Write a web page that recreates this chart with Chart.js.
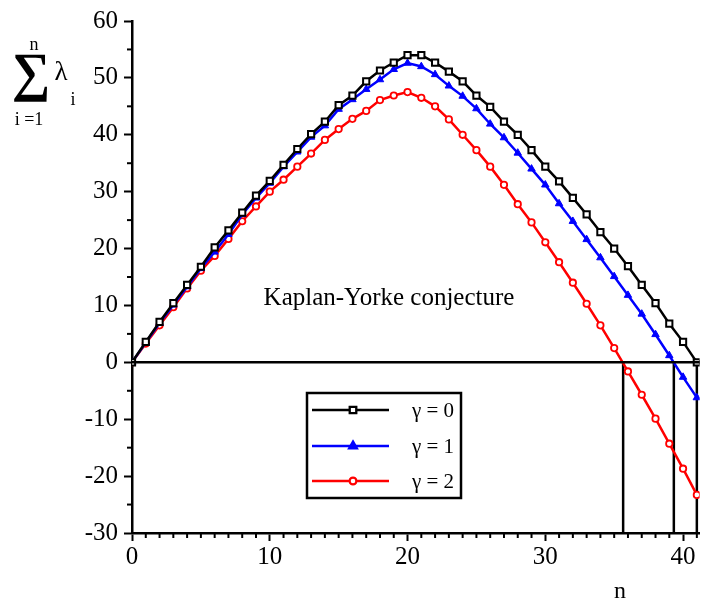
<!DOCTYPE html>
<html>
<head>
<meta charset="utf-8">
<script src="https://cdn.jsdelivr.net/npm/chart.js@4.4.1/dist/chart.umd.min.js"></script>
<style>
  body { margin: 0; background: #fff; }
  #wrap { width: 706px; height: 603px; }
</style>
</head>
<body>
<div id="wrap"><canvas id="kyChart" width="706" height="603"></canvas></div>
<script>
// n = 0 .. 41
const nValues = [0,1,2,3,4,5,6,7,8,9,10,11,12,13,14,15,16,17,18,19,20,21,22,23,24,25,26,27,28,29,30,31,32,33,34,35,36,37,38,39,40,41];

// cumulative sum of Lyapunov exponents for each gamma
const gamma0 = [0,3.6,7.1,10.4,13.6,16.8,20.2,23.2,26.3,29.3,31.9,34.7,37.5,40.1,42.3,45.2,46.9,49.4,51.3,52.7,54.0,54.0,52.7,51.1,49.4,46.9,44.9,42.3,40.0,37.3,34.4,31.8,28.9,26.0,22.9,20.0,16.9,13.6,10.4,6.8,3.6,0.0];
const gamma1 = [0,3.5,6.9,10.1,13.3,16.5,19.4,22.5,26.0,28.9,31.5,34.4,37.0,39.6,41.6,44.5,46.2,48.0,49.7,51.5,52.6,52.0,50.6,48.6,46.8,44.6,41.9,39.5,36.8,34.0,31.2,27.9,24.8,21.6,18.4,15.1,11.8,8.5,4.9,1.2,-2.6,-6.2];
const gamma2 = [0,3.3,6.5,9.7,13.0,16.1,18.7,21.7,24.8,27.4,30.0,32.1,34.4,36.7,39.1,41.0,42.8,44.2,46.1,46.9,47.5,46.5,45.0,42.7,40.0,37.3,34.4,31.2,27.8,24.6,21.1,17.6,14.0,10.3,6.5,2.5,-1.6,-5.7,-9.9,-14.3,-18.7,-23.3];

// zero crossings (Kaplan-Yorke dimension) marked with vertical lines
const crossings = [35.65, 39.33, 41];

const seriesNames = ['\u03b3 = 0', '\u03b3 = 1', '\u03b3 = 2'];
const seriesColors = ['#000000', '#0000ff', '#ff0000'];

const xTicks = [0, 10, 20, 30, 40];
const yTicks = [-30, -20, -10, 0, 10, 20, 30, 40, 50, 60];

const serif = '"Liberation Serif", "DejaVu Serif", serif';

function toPoints(ys) {
    return nValues.map((n, i) => ({ x: n, y: ys[i] }));
}

const markerDefs = [
    { pointStyle: 'rect', pointRadius: 4.4, pointBackgroundColor: '#fff', pointBorderWidth: 2 },
    { pointStyle: 'triangle', pointRadius: 4.3, pointBackgroundColor: '#0000ff', pointBorderWidth: 1 },
    { pointStyle: 'circle', pointRadius: 3.2, pointBackgroundColor: '#fff', pointBorderWidth: 1.8 }
];

const datasets = [gamma0, gamma1, gamma2].map((ys, i) => Object.assign({
    label: seriesNames[i],
    data: toPoints(ys),
    borderColor: seriesColors[i],
    pointBorderColor: seriesColors[i],
    borderWidth: 2.5,
    tension: 0
}, markerDefs[i]));

// vertical drop lines at the zero crossings
crossings.forEach(c => {
    datasets.push({
        label: 'cross',
        data: [{ x: c, y: 0 }, { x: c, y: -30 }],
        borderColor: '#000',
        borderWidth: 2.5,
        pointRadius: 0
    });
});

// extras: minor ticks, zero line text, legend box, axis titles
const extras = {
    id: 'extras',
    afterDraw(chart) {
        const ctx = chart.ctx;
        const xs = chart.scales.x, ys = chart.scales.y;
        const area = chart.chartArea;
        ctx.save();
        ctx.strokeStyle = '#000';
        ctx.lineWidth = 2;
        // minor ticks
        for (let n = 1; n <= 41; n++) {
            if (n % 10 === 0) continue;
            const px = xs.getPixelForValue(n);
            ctx.beginPath();
            ctx.moveTo(px, area.bottom);
            ctx.lineTo(px, area.bottom + 5);
            ctx.stroke();
        }
        for (let v = -25; v <= 55; v += 10) {
            const py = ys.getPixelForValue(v);
            ctx.beginPath();
            ctx.moveTo(area.left, py);
            ctx.lineTo(area.left - 5, py);
            ctx.stroke();
        }
        // zero line
        ctx.lineWidth = 2.5;
        const y0 = ys.getPixelForValue(0);
        ctx.beginPath();
        ctx.moveTo(area.left, y0);
        ctx.lineTo(area.right, y0);
        ctx.stroke();

        // annotation
        ctx.fillStyle = '#000';
        ctx.font = '25px ' + serif;
        ctx.textAlign = 'center';
        ctx.textBaseline = 'middle';
        ctx.fillText('Kaplan-Yorke conjecture', 389, 298);

        // legend
        ctx.lineWidth = 2.5;
        ctx.strokeRect(307, 393, 154, 105);
        const rows = [410, 446, 481];
        rows.forEach((ry, i) => {
            ctx.strokeStyle = seriesColors[i];
            ctx.lineWidth = 2.5;
            ctx.beginPath();
            ctx.moveTo(312, ry);
            ctx.lineTo(389, ry);
            ctx.stroke();
            const m = markerDefs[i];
            Chart.helpers.drawPoint(ctx, {
                pointStyle: m.pointStyle,
                radius: m.pointRadius,
                borderWidth: m.pointBorderWidth,
                rotation: 0
            }, 353, ry);
            ctx.fillStyle = i === 1 ? seriesColors[1] : '#fff';
            ctx.strokeStyle = seriesColors[i];
            ctx.lineWidth = m.pointBorderWidth;
            ctx.fill();
            ctx.stroke();
            ctx.fillStyle = '#000';
            ctx.font = '21px ' + serif;
            ctx.textAlign = 'left';
            ctx.fillText(seriesNames[i], 412, ry + 1);
        });

        // y axis title: sum_{i=1}^{n} lambda_i
        ctx.fillStyle = '#000';
        ctx.textAlign = 'center';
        ctx.textBaseline = 'alphabetic';
        ctx.font = 'bold 54px ' + serif;
        ctx.fillText('\u2211', 31, 90);
        ctx.font = '18px ' + serif;
        ctx.fillText('n', 34, 50);
        ctx.fillText('i =1', 29, 125);
        ctx.font = '27px ' + serif;
        ctx.fillText('\u03bb', 61, 80);
        ctx.font = '18px ' + serif;
        ctx.fillText('i', 73, 105);

        // x axis title
        ctx.font = '24px ' + serif;
        ctx.fillText('n', 620, 598);
        ctx.restore();
    }
};

new Chart(document.getElementById('kyChart'), {
    type: 'line',
    data: { datasets: datasets },
    options: {
        responsive: false,
        animation: false,
        layout: { padding: { top: 14, right: 3, left: 0, bottom: 0 } },
        plugins: {
            legend: { display: false },
            tooltip: { enabled: false }
        },
        scales: {
            x: {
                type: 'linear',
                min: 0,
                max: 41.2,
                afterFit: s => { s.height = 70; },
                afterBuildTicks: s => { s.ticks = xTicks.map(v => ({ value: v })); },
                border: { display: true, color: '#000', width: 2.5 },
                grid: { drawOnChartArea: false, drawTicks: true, tickLength: 8, tickWidth: 2, tickColor: '#000' },
                ticks: { color: '#000', font: { family: serif, size: 25 }, padding: 1, maxRotation: 0 }
            },
            y: {
                type: 'linear',
                min: -30,
                max: 60,
                afterFit: s => { s.width = 132; },
                afterBuildTicks: s => { s.ticks = yTicks.map(v => ({ value: v })); },
                border: { display: true, color: '#000', width: 2.5 },
                grid: { drawOnChartArea: false, drawTicks: true, tickLength: 8, tickWidth: 2, tickColor: '#000' },
                ticks: { color: '#000', font: { family: serif, size: 25 }, padding: 6 }
            }
        }
    },
    plugins: [extras]
});
</script>
</body>
</html>
